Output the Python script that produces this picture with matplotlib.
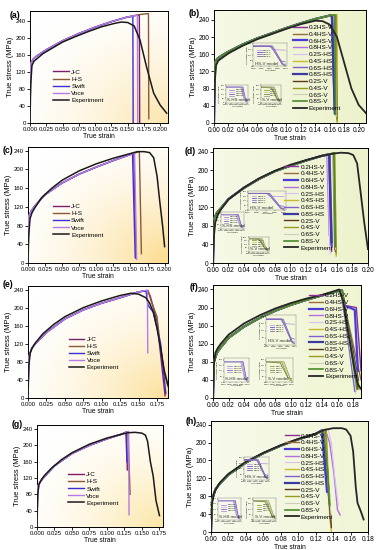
import numpy as np
import matplotlib.pyplot as plt

plt.rcParams['font.family'] = ['Liberation Sans', 'DejaVu Sans']

# ---------------- data (strain, MPa) ----------------
left_names = ['J-C', 'H-S', 'Swift', 'Voce']
right_names = ['0.2HS-V', '0.4HS-V', '0.6HS-V', '0.8HS-V',
               '0.2S-HS', '0.4S-HS', '0.6S-HS', '0.8S-HS',
               '0.2S-V', '0.4S-V', '0.6S-V', '0.8S-V']

# (a)
exp_a_x = [0, 0.001, 0.003, 0.006, 0.01, 0.02, 0.03, 0.05, 0.07, 0.09, 0.11, 0.13, 0.14, 0.15, 0.16, 0.169, 0.179, 0.19, 0.2, 0.21]
exp_a_y = [0, 90, 135, 145, 150, 163, 172, 190, 203, 215, 226, 234, 237, 236, 228, 195, 132, 70, 42, 23]
mod_a_x = [0, 0.001, 0.005, 0.01, 0.025, 0.05, 0.075, 0.1, 0.125, 0.15, 0.17, 0.19]
mod_a_y = [0, 140, 150, 157, 172, 193, 210, 225, 238, 249, 255, 258]
tail_a_x = [[0.168, 0.1685], [0.182, 0.1825], [0.158, 0.1585], [0.165, 0.1655]]
tail_a_y = [[254, 0], [257, 10], [250, 0], [253, 0]]

# (c)
exp_c_x = [0, 0.001, 0.003, 0.006, 0.01, 0.02, 0.035, 0.05, 0.075, 0.1, 0.125, 0.15, 0.16, 0.17, 0.178, 0.184, 0.189, 0.193, 0.197, 0.2]
exp_c_y = [0, 60, 95, 108, 118, 140, 160, 177, 197, 212, 224, 234, 238, 238, 236, 225, 185, 130, 80, 35]
mod_c_x = [0, 0.001, 0.005, 0.01, 0.025, 0.05, 0.075, 0.1, 0.125, 0.15, 0.17]
mod_c_y = [0, 100, 112, 122, 146, 171, 190, 205, 219, 232, 240]
tail_c_x = [[0.155, 0.158], [0.163, 0.166], [0.153, 0.157], [0.156, 0.159]]
tail_c_y = [[235, 10], [238, 20], [234, 12], [236, 8]]

# (e)
exp_e_x = [0, 0.001, 0.003, 0.006, 0.01, 0.02, 0.035, 0.05, 0.075, 0.1, 0.125, 0.14, 0.15, 0.16, 0.165, 0.17, 0.175, 0.18, 0.185, 0.19]
exp_e_y = [0, 70, 100, 112, 122, 142, 163, 180, 200, 215, 227, 232, 230, 222, 210, 190, 155, 110, 60, 28]
mod_e_x = [0, 0.001, 0.005, 0.01, 0.025, 0.05, 0.075, 0.1, 0.125, 0.15, 0.165]
mod_e_y = [0, 90, 110, 120, 145, 175, 195, 210, 222, 235, 240]
tail_e_x = [[0.162, 0.166, 0.175, 0.186], [0.163, 0.167, 0.175, 0.18, 0.185, 0.19],
            [0.160, 0.163, 0.17, 0.18, 0.187], [0.162, 0.1625]]
tail_e_y = [[238, 225, 170, 5], [238, 215, 180, 110, 55, 25], [237, 205, 190, 120, 10], [239, 100]]

# (g)
exp_g_x = [0, 0.001, 0.003, 0.006, 0.01, 0.02, 0.035, 0.05, 0.075, 0.1, 0.12, 0.13, 0.14, 0.15, 0.155, 0.158, 0.162, 0.166, 0.17, 0.175]
exp_g_y = [0, 80, 105, 115, 125, 143, 165, 182, 203, 218, 227, 231, 232, 230, 225, 210, 160, 125, 65, 28]
mod_g_x = [0, 0.001, 0.005, 0.01, 0.025, 0.05, 0.075, 0.1, 0.12, 0.14]
mod_g_y = [0, 100, 112, 122, 150, 180, 200, 216, 227, 236]
tail_g_x = [[0.128, 0.129], [0.130, 0.133], [0.127, 0.1285], [0.131, 0.1315]]
tail_g_y = [[233, 140], [234, 80], [232, 160], [234, 30]]

# (b)
exp_b_x = [0, 0.001, 0.003, 0.006, 0.01, 0.02, 0.04, 0.06, 0.08, 0.1, 0.12, 0.14, 0.15, 0.16, 0.17, 0.18, 0.19, 0.2, 0.21]
exp_b_y = [0, 95, 135, 145, 150, 162, 180, 195, 207, 219, 230, 238, 237, 229, 200, 140, 80, 42, 23]
mod_b_x = [0, 0.001, 0.005, 0.01, 0.02, 0.04, 0.06, 0.08, 0.1, 0.12, 0.14, 0.16, 0.18]
mod_b_y = [0, 140, 150, 156, 166, 183, 197, 209, 221, 232, 242, 250, 255]
tail_b_x = [[0.164, 0.168], [0.165, 0.169], [0.163, 0.167], [0.166, 0.169], [0.165, 0.168], [0.170, 0.1705],
            [0.164, 0.168], [0.163, 0.167], [0.168, 0.170], [0.169, 0.170], [0.167, 0.169], [0.167, 0.168]]
tail_b_y = [[250, 25], [251, 20], [250, 30], [251, 25], [251, 35], [252, 0],
            [250, 28], [250, 22], [252, 10], [252, 5], [251, 15], [251, 20]]

# (d)
exp_d_x = [0, 0.001, 0.003, 0.006, 0.01, 0.02, 0.04, 0.06, 0.08, 0.1, 0.12, 0.14, 0.155, 0.165, 0.175, 0.181, 0.186, 0.19, 0.195, 0.2]
exp_d_y = [0, 55, 88, 103, 115, 137, 163, 183, 199, 212, 222, 231, 236, 238, 237, 233, 215, 160, 90, 30]
mod_d_x = [0, 0.001, 0.005, 0.01, 0.02, 0.04, 0.06, 0.08, 0.1, 0.12, 0.14, 0.16, 0.17]
mod_d_y = [0, 95, 108, 118, 138, 162, 182, 198, 210, 221, 231, 238, 242]
tail_d_x = [[0.150, 0.153], [0.155, 0.157], [0.149, 0.152], [0.147, 0.150], [0.148, 0.151], [0.157, 0.159],
            [0.151, 0.154], [0.150, 0.153], [0.156, 0.158], [0.157, 0.159], [0.155, 0.158], [0.156, 0.158]]
tail_d_y = [[235, 25], [237, 30], [234, 40], [234, 60], [234, 20], [238, 15],
            [235, 35], [235, 45], [237, 25], [238, 20], [237, 30], [237, 35]]

# (f)
exp_f_x = [0, 0.001, 0.003, 0.006, 0.01, 0.02, 0.04, 0.06, 0.08, 0.1, 0.12, 0.14, 0.155, 0.162, 0.167, 0.172, 0.177, 0.182, 0.186, 0.19]
exp_f_y = [0, 70, 100, 110, 120, 140, 165, 183, 198, 210, 220, 228, 236, 240, 215, 160, 110, 60, 30, 20]
mod_f_x = [0, 0.001, 0.005, 0.01, 0.02, 0.04, 0.06, 0.08, 0.1, 0.12, 0.14, 0.16, 0.17]
mod_f_y = [0, 80, 100, 112, 133, 158, 177, 193, 206, 217, 227, 236, 240]
tail_f_x = [[0.165, 0.168, 0.184, 0.19], [0.166, 0.170, 0.19], [0.165, 0.168, 0.182, 0.186], [0.164, 0.167, 0.185],
            [0.165, 0.183], [0.166, 0.170, 0.188], [0.165, 0.182], [0.165, 0.168, 0.186],
            [0.166, 0.186], [0.166, 0.169, 0.187], [0.165, 0.184], [0.166, 0.185]]
tail_f_y = [[238, 205, 200, 60], [238, 195, 40], [238, 205, 195, 60], [237, 200, 30],
            [238, 10], [238, 200, 20], [238, 15], [238, 210, 40],
            [238, 20], [238, 195, 25], [238, 15], [238, 20]]

# (h)
exp_h_x = [0, 0.001, 0.003, 0.006, 0.01, 0.02, 0.04, 0.06, 0.08, 0.1, 0.12, 0.13, 0.14, 0.15, 0.155, 0.16, 0.163, 0.166, 0.168, 0.172, 0.175]
exp_h_y = [0, 60, 85, 97, 110, 130, 157, 177, 194, 208, 220, 228, 232, 232, 229, 215, 180, 100, 65, 45, 28]
mod_h_x = [0, 0.001, 0.005, 0.01, 0.02, 0.04, 0.06, 0.08, 0.1, 0.12, 0.13, 0.14]
mod_h_y = [0, 70, 95, 108, 128, 155, 176, 193, 207, 219, 226, 232]
tail_h_x = [[0.128, 0.131, 0.136], [0.130, 0.134, 0.137], [0.127, 0.129, 0.133], [0.131, 0.136, 0.141, 0.145, 0.148],
            [0.134, 0.138, 0.142, 0.146], [0.132, 0.135, 0.138], [0.129, 0.133, 0.136], [0.128, 0.131, 0.134],
            [0.131, 0.135, 0.138], [0.132, 0.134, 0.136], [0.130, 0.134, 0.138], [0.129, 0.133, 0.136]]
tail_h_y = [[228, 150, 60], [229, 100, 20], [227, 180, 90], [229, 200, 130, 50, 38],
            [231, 200, 120, 60], [230, 110, 0], [228, 140, 80], [228, 160, 110],
            [229, 90, 10], [230, 110, 70], [229, 120, 30], [228, 150, 60]]

# inset curves (normalised strain / stress)
ins_hsv_x = [[0, 0.5, 0.6, 1.0], [0, 0.55, 0.9, 1.0], [0, 0.55, 0.85, 1.0], [0, 0.6, 0.95, 1.0]]
ins_hsv_y = [[0.9, 0.9, 0.75, 0.72], [0.9, 0.9, 0.1, 0.1], [0.9, 0.9, 0.25, 0.2], [0.9, 0.9, 0.05, 0.05]]
ins_shs_x = [[0, 0.75, 0.9, 1.0], [0, 0.78, 0.92, 1.0], [0, 0.8, 0.95, 1.0], [0, 0.7, 0.85, 1.0]]
ins_shs_y = [[0.9, 0.9, 0.1, 0.1], [0.9, 0.9, 0.15, 0.15], [0.9, 0.9, 0.05, 0.05], [0.9, 0.9, 0.2, 0.2]]
ins_sv_x = [[0, 0.6, 0.9, 1.0], [0, 0.65, 0.95, 1.0], [0, 0.55, 0.85, 1.0], [0, 0.7, 0.98, 1.0]]
ins_sv_y = [[0.9, 0.9, 0.1, 0.08], [0.9, 0.88, 0.15, 0.1], [0.9, 0.85, 0.2, 0.15], [0.9, 0.9, 0.05, 0.05]]

# ---------------- style ----------------
left_colors = ['#7a1f6e', '#8a5a36', '#3b2fd6', '#b77be6']
right_colors = ['#8a2f9a', '#9a6a3a', '#4a3ad8', '#b070e0', '#d8c0f0', '#c8b830',
                '#8060d0', '#3a3aa0', '#5a3a1a', '#9a9a20', '#c8d0b8', '#4a8a2a']
right_lw = [1.0, 1.0, 1.6, 1.0, 0.8, 1.0, 1.0, 1.6, 1.0, 1.0, 0.8, 1.2]
hsv_cols = ['#c0a0e0', '#6a4ad8', '#9070e0', '#7a6aa0']
shs_cols = ['#b080e0', '#d0b0f0', '#8060d0', '#a0a0c0']
sv_cols = ['#9a9a20', '#c8c890', '#6a8a3a', '#a0a080']


def paint_bg(ax, c_end, kind):
    yy, xx = np.mgrid[0:1:120j, 0:1:120j]
    if kind == 'radial':
        t = np.clip(1 - np.hypot(1 - xx, 1 - yy) / 1.3, 0, 1) ** 1.8
    else:
        t = 0.5 + 0.5 * xx
    c0 = np.array([1.0, 1.0, 1.0])
    img = c0 + (np.array(c_end) - c0) * t[..., None]
    ax.imshow(img, extent=[0, 1, 0, 1], transform=ax.transAxes, aspect='auto',
              zorder=0, interpolation='bilinear')


def model_curve(mx, my, tx, ty):
    mx = np.asarray(mx)
    my = np.asarray(my)
    keep = mx < tx[0]
    return np.r_[mx[keep], tx], np.r_[my[keep], ty]


def setup(ax, xmax, ymax, xtick_max, xstep, fmt, fs):
    ax.set_xlim(0, xmax)
    ax.set_ylim(0, ymax)
    ticks = np.arange(0, xtick_max + 1e-9, xstep)
    ax.set_xticks(ticks)
    ax.set_xticklabels([fmt % t for t in ticks])
    ax.set_yticks(np.arange(0, 241, 40))
    ax.tick_params(labelsize=fs, length=2, width=0.6, pad=1)
    for s in ax.spines.values():
        s.set_linewidth(0.7)
    ax.set_ylabel('True stress (MPa)', fontsize=5.4, labelpad=1)
    ax.set_xlabel('True strain', fontsize=4.8, labelpad=0.5)


def add_inset(ax, pos, xs, ys, cols, names, title):
    ia = ax.inset_axes(pos)
    ia.set_facecolor('none')
    for x, y, c, n in zip(xs, ys, cols, names):
        ia.plot(x, y, color=c, lw=0.6, label=n)
    ia.set_xlim(0, 1.05)
    ia.set_ylim(0, 1.05)
    ia.set_xticks([0, 0.25, 0.5, 0.75, 1.0])
    ia.set_xticklabels(['0.150', '0.155', '0.160', '0.165', '0.170'])
    ia.set_yticks([0, 0.25, 0.5, 0.75, 1.0])
    ia.set_yticklabels(['0', '60', '120', '180', '240'])
    ia.tick_params(labelsize=1.6, length=0.8, width=0.3, pad=0.3)
    for s in ia.spines.values():
        s.set_linewidth(0.3)
        s.set_color('#777777')
    ia.set_xlabel('True strain', fontsize=1.6, labelpad=0.3)
    ia.set_ylabel('True stress (MPa)', fontsize=1.6, labelpad=0.3)
    ia.legend(loc='center left', bbox_to_anchor=(0.05, 0.55), fontsize=1.6, frameon=False,
              handlelength=2, labelspacing=0.2)
    ia.text(0.05, 0.08, title, transform=ia.transAxes, fontsize=3.2, color='#333333')


fig = plt.figure(figsize=(3.77, 5.5), dpi=100)

left_panels = [
    ('(a)', [0.0796, 0.7764, 0.366, 0.2036], 0.212, 263, 0.2, 0.025, exp_a_x, exp_a_y, mod_a_x, mod_a_y, tail_a_x, tail_a_y, (0.17, 0.48), (0.99, 0.90, 0.68)),
    ('(c)', [0.0743, 0.5218, 0.3714, 0.211], 0.205, 248, 0.2, 0.025, exp_c_x, exp_c_y, mod_c_x, mod_c_y, tail_c_x, tail_c_y, (0.18, 0.51), (0.99, 0.86, 0.55)),
    ('(e)', [0.0743, 0.2764, 0.3714, 0.2036], 0.19, 248, 0.175, 0.025, exp_e_x, exp_e_y, mod_e_x, mod_e_y, tail_e_x, tail_e_y, (0.29, 0.55), (0.99, 0.88, 0.60)),
    ('(g)', [0.0981, 0.0418, 0.3342, 0.1855], 0.18, 250, 0.175, 0.025, exp_g_x, exp_g_y, mod_g_x, mod_g_y, tail_g_x, tail_g_y, (0.25, 0.54), (0.99, 0.90, 0.65)),
]
label_pos = {'(a)': (0.025, 0.972), '(c)': (0.008, 0.727), '(e)': (0.008, 0.482),
             '(g)': (0.03, 0.228), '(b)': (0.5, 0.975), '(d)': (0.49, 0.724),
             '(f)': (0.503, 0.477), '(h)': (0.493, 0.233)}

for (lab, pos, xmax, ymax, xtm, xst, ex, ey, mx, my, tx, ty, lpos, bgc) in left_panels:
    ax = fig.add_axes(pos)
    paint_bg(ax, bgc, 'radial')
    for name, c, txl, tyl in zip(left_names, left_colors, tx, ty):
        cx, cy = model_curve(mx, my, txl, tyl)
        ax.plot(cx, cy, color=c, lw=1.0, label=name, zorder=3)
    ax.plot(ex, ey, color='#1a1a1a', lw=1.1, label='Experiment', zorder=4)
    setup(ax, xmax, ymax, xtm, xst, '%.3f', 4.3)
    ax.legend(loc='upper left', bbox_to_anchor=lpos, fontsize=4.6, frameon=False,
              handlelength=2.4, handletextpad=0.4, labelspacing=0.25,
              borderpad=0, borderaxespad=0)
    fig.text(*label_pos[lab], lab, fontsize=6.3, fontweight='bold', va='center')

right_panels = [
    ('(b)', [0.5676, 0.7764, 0.403, 0.2055], 0.21, 263, 0.2, exp_b_x, exp_b_y, mod_b_x, mod_b_y, tail_b_x, tail_b_y, (0.52, 0.87),
     [[0.26, 0.5, 0.22, 0.21], [0.08, 0.18, 0.145, 0.16], [0.31, 0.18, 0.13, 0.16]], (0.93, 0.95, 0.80)),
    ('(d)', [0.565, 0.5218, 0.411, 0.209], 0.2, 248, 0.2, exp_d_x, exp_d_y, mod_d_x, mod_d_y, tail_d_x, tail_d_y, (0.46, 0.86),
     [[0.226, 0.46, 0.245, 0.17], [0.05, 0.30, 0.15, 0.14], [0.23, 0.10, 0.13, 0.13]], (0.93, 0.95, 0.80)),
    ('(f)', [0.565, 0.2764, 0.3926, 0.2055], 0.19, 250, 0.18, exp_f_x, exp_f_y, mod_f_x, mod_f_y, tail_f_x, tail_f_y, (0.65, 0.93),
     [[0.36, 0.47, 0.2, 0.265], [0.074, 0.14, 0.17, 0.21], [0.36, 0.14, 0.18, 0.21]], (0.94, 0.96, 0.82)),
    ('(h)', [0.5597, 0.0327, 0.4164, 0.2018], 0.18, 248, 0.18, exp_h_x, exp_h_y, mod_h_x, mod_h_y, tail_h_x, tail_h_y, (0.47, 0.89),
     [[0.21, 0.47, 0.16, 0.21], [0.045, 0.11, 0.145, 0.2], [0.27, 0.11, 0.145, 0.2]], (0.94, 0.96, 0.84)),
]

for (lab, pos, xmax, ymax, xtm, ex, ey, mx, my, tx, ty, lpos, ins, bgc) in right_panels:
    ax = fig.add_axes(pos)
    paint_bg(ax, bgc, 'linear')
    for name, c, lw, txl, tyl in zip(right_names, right_colors, right_lw, tx, ty):
        cx, cy = model_curve(mx, my, txl, tyl)
        ax.plot(cx, cy, color=c, lw=lw, label=name, zorder=3)
    ax.plot(ex, ey, color='#262626', lw=1.3, label='Experiment', zorder=4)
    setup(ax, xmax, ymax, xtm, 0.02, '%.2f', 4.8)
    ax.legend(loc='upper left', bbox_to_anchor=lpos, fontsize=4.6, frameon=False,
              handlelength=2.2, handletextpad=0.3, labelspacing=0.2,
              borderpad=0, borderaxespad=0)
    add_inset(ax, ins[0], ins_hsv_x, ins_hsv_y, hsv_cols, right_names[0:4], 'HS-V model')
    add_inset(ax, ins[1], ins_shs_x, ins_shs_y, shs_cols, right_names[4:8], 'S-HS model')
    add_inset(ax, ins[2], ins_sv_x, ins_sv_y, sv_cols, right_names[8:12], 'S-V model')
    fig.text(*label_pos[lab], lab, fontsize=6.3, fontweight='bold', va='center')

fig.savefig('out.png', dpi=100)
